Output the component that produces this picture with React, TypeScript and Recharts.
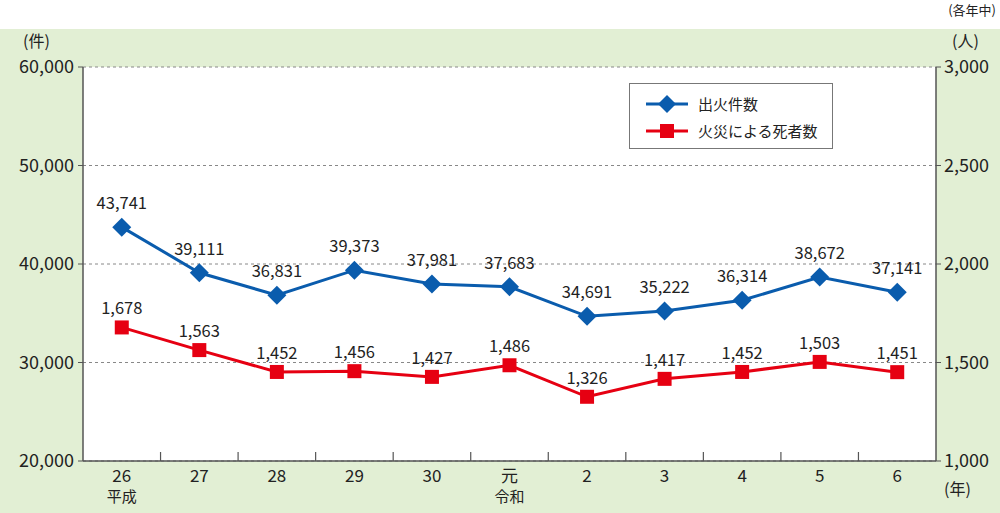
import { LineChart, Line, XAxis, YAxis, CartesianGrid, LabelList, Legend } from 'recharts';

const years = ['26', '27', '28', '29', '30', '元', '2', '3', '4', '5', '6'];
const eras = ['平成', '', '', '', '', '令和', '', '', '', '', ''];
const fires = [43741, 39111, 36831, 39373, 37981, 37683, 34691, 35222, 36314, 38672, 37141];
const deaths = [1678, 1563, 1452, 1456, 1427, 1486, 1326, 1417, 1452, 1503, 1451];
const leftTicks = [20000, 30000, 40000, 50000, 60000];
const rightTicks = [1000, 1500, 2000, 2500, 3000];

const data = years.map((year, i) => ({ year, era: eras[i], fires: fires[i], deaths: deaths[i] }));

const BLUE = '#0a5cad';
const RED = '#e60012';
const FONT = "'Noto Sans CJK JP', 'Noto Sans', sans-serif";
const AXIS = '#555';

const W = 1000;
const H = 513;
const LEFT_W = 83;
const RIGHT_W = 64;
const TOP = 67;
const BOTTOM = 52;
const STEP = (W - LEFT_W - RIGHT_W) / years.length;

const fmt = (v: number) => v.toLocaleString('en-US');

const Diamond = (props: any) => {
  const { cx, cy } = props;
  if (cx == null || cy == null) return null;
  const r = 9.5;
  return <polygon points={`${cx},${cy - r} ${cx + r},${cy} ${cx},${cy + r} ${cx - r},${cy}`} fill={BLUE} />;
};

const Square = (props: any) => {
  const { cx, cy } = props;
  if (cx == null || cy == null) return null;
  return <rect x={cx - 7} y={cy - 7} width={14} height={14} fill={RED} />;
};

const XTick = (props: any) => {
  const { x, y, payload, index } = props;
  const era = eras[index];
  return (
    <g>
      {index > 0 && <line x1={x - STEP / 2} x2={x - STEP / 2} y1={y} y2={y - 9} stroke={AXIS} strokeWidth={1.2} />}
      <text x={x} y={y + 21} textAnchor="middle" fontSize={17} fill="#222" fontFamily={FONT}>
        {payload.value}
      </text>
      {era && (
        <text x={x} y={y + 41} textAnchor="middle" fontSize={15} fill="#222" fontFamily={FONT}>
          {era}
        </text>
      )}
    </g>
  );
};

const LegendBox = () => (
  <div
    style={{
      width: 204,
      height: 66,
      boxSizing: 'border-box',
      border: '1px solid #777',
      background: '#fff',
      fontFamily: FONT,
      fontSize: 15,
      color: '#222',
      padding: '6px 0 0 14px',
    }}
  >
    <div style={{ display: 'flex', alignItems: 'center', height: 27 }}>
      <svg width={46} height={20}>
        <line x1={2} x2={44} y1={10} y2={10} stroke={BLUE} strokeWidth={3} />
        <polygon points="23,1 32,10 23,19 14,10" fill={BLUE} />
      </svg>
      <span style={{ marginLeft: 8 }}>出火件数</span>
    </div>
    <div style={{ display: 'flex', alignItems: 'center', height: 27 }}>
      <svg width={46} height={20}>
        <line x1={2} x2={44} y1={10} y2={10} stroke={RED} strokeWidth={3} />
        <rect x={16} y={3} width={14} height={14} fill={RED} />
      </svg>
      <span style={{ marginLeft: 8 }}>火災による死者数</span>
    </div>
  </div>
);

const unitStyle = { position: 'absolute' as const, fontSize: 16, lineHeight: 1, color: '#222' };

export default function App() {
  return (
    <div style={{ position: 'absolute', left: 0, top: 0, width: W, height: H, background: '#fff', fontFamily: FONT }}>
      <div style={{ position: 'absolute', left: 0, top: 29, width: W, height: H - 29, background: '#e2efd4' }} />
      <div style={{ position: 'absolute', right: 4, top: 0, fontSize: 13, color: '#222' }}>(各年中)</div>
      <div style={{ ...unitStyle, left: 23, top: 32 }}>(件)</div>
      <div style={{ ...unitStyle, left: 952, top: 32 }}>(人)</div>
      <div style={{ ...unitStyle, left: 944, top: 480 }}>(年)</div>
      <div style={{ position: 'absolute', left: 0, top: 0 }}>
        <LineChart width={W} height={H} data={data} margin={{ top: TOP, right: 0, left: 0, bottom: 0 }}>
          <CartesianGrid yAxisId="left" vertical={false} stroke="#888" strokeDasharray="3 3" fill="#fff" fillOpacity={1} />
          <XAxis
            dataKey="year"
            height={BOTTOM}
            tick={<XTick />}
            tickLine={false}
            tickSize={0}
            tickMargin={0}
            interval={0}
            padding={{ left: STEP / 2, right: STEP / 2 }}
            axisLine={{ stroke: AXIS, strokeWidth: 1.5 }}
          />
          <XAxis
            xAxisId="top"
            dataKey="year"
            orientation="top"
            height={0}
            tick={false}
            tickLine={false}
            axisLine={{ stroke: AXIS, strokeWidth: 1.5 }}
          />
          <YAxis
            yAxisId="left"
            width={LEFT_W}
            domain={[20000, 60000]}
            ticks={leftTicks}
            tickFormatter={fmt}
            tickSize={5}
            tickMargin={4}
            tick={{ fontSize: 18, fill: '#222', fontFamily: FONT }}
            tickLine={{ stroke: AXIS }}
            axisLine={{ stroke: AXIS, strokeWidth: 1.5 }}
          />
          <YAxis
            yAxisId="right"
            orientation="right"
            width={RIGHT_W}
            domain={[1000, 3000]}
            ticks={rightTicks}
            tickFormatter={fmt}
            tickSize={5}
            tickMargin={3}
            tick={{ fontSize: 18, fill: '#222', fontFamily: FONT, textAnchor: 'start' }}
            tickLine={{ stroke: AXIS }}
            axisLine={{ stroke: AXIS, strokeWidth: 1.5 }}
          />
          <Legend
            layout="horizontal"
            verticalAlign="middle"
            align="center"
            content={<LegendBox />}
            wrapperStyle={{ position: 'absolute', left: 629, top: 83, width: 204, height: 66 }}
          />
          <Line
            yAxisId="left"
            dataKey="fires"
            name="出火件数"
            stroke={BLUE}
            strokeWidth={3}
            dot={<Diamond />}
            activeDot={false}
            isAnimationActive={false}
          >
            <LabelList dataKey="fires" position="top" offset={18} formatter={fmt} fontSize={16.5} fill="#222" fontFamily={FONT} />
          </Line>
          <Line
            yAxisId="right"
            dataKey="deaths"
            name="火災による死者数"
            stroke={RED}
            strokeWidth={3}
            dot={<Square />}
            activeDot={false}
            isAnimationActive={false}
          >
            <LabelList dataKey="deaths" position="top" offset={13} formatter={fmt} fontSize={16.5} fill="#222" fontFamily={FONT} />
          </Line>
        </LineChart>
      </div>
    </div>
  );
}
